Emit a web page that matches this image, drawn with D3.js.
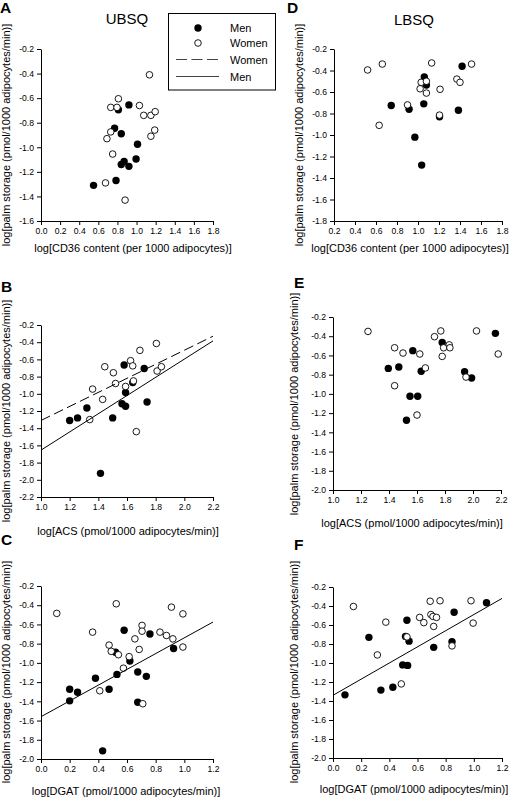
<!DOCTYPE html>
<html><head><meta charset="utf-8">
<script src="https://cdn.jsdelivr.net/npm/d3@7"></script>
<style>
body{margin:0;background:#fff}
svg{display:block}
text{font-family:"Liberation Sans",Arial,Helvetica,sans-serif;fill:#000}
</style>
</head><body>
<svg id="c" width="511" height="798"></svg>
<script>
// ---------- data ----------
const A_men = [[0.55,-1.31],[0.785,-1.27],[0.81,-0.695],[0.92,-0.655],[0.77,-0.845],[0.84,-0.89],[1.01,-0.975],[0.995,-1.095],[0.87,-1.115],[0.84,-1.14],[0.92,-1.155]];
const A_women = [[1.135,-0.41],[0.81,-0.605],[0.73,-0.675],[0.795,-0.675],[1.03,-0.66],[1.075,-0.74],[1.15,-0.74],[1.195,-0.71],[0.73,-0.875],[0.69,-0.93],[1.19,-0.86],[1.15,-0.91],[0.75,-1.055],[0.675,-1.29],[0.88,-1.43]];

const D_men = [[1.42,-0.36],[1.06,-0.46],[1.08,-0.535],[0.745,-0.725],[0.915,-0.76],[1.055,-0.71],[1.385,-0.77],[0.97,-1.02],[1.035,-1.28],[1.205,-0.83]];
const D_women = [[0.52,-0.395],[0.66,-0.34],[1.13,-0.33],[1.51,-0.34],[1.37,-0.48],[1.40,-0.51],[1.03,-0.51],[1.08,-0.50],[1.02,-0.57],[1.08,-0.61],[1.21,-0.575],[0.90,-0.72],[1.205,-0.815],[0.63,-0.91]];

const B_men = [[1.20,-1.31],[1.255,-1.28],[1.32,-1.165],[1.50,-1.28],[1.415,-1.925],[1.58,-0.665],[1.59,-0.985],[1.565,-1.115],[1.59,-1.145],[1.72,-0.705],[1.64,-0.87],[1.74,-1.095]];
const B_women = [[1.445,-0.685],[1.505,-0.755],[1.52,-0.88],[1.36,-0.945],[1.43,-1.065],[1.34,-1.30],[1.59,-0.915],[1.625,-0.615],[1.64,-0.675],[1.805,-0.415],[1.69,-0.495],[1.81,-0.735],[1.84,-0.685],[1.645,-0.85],[1.665,-1.44]];
const B_womenFit = [[1.0,-1.31],[2.2,-0.33]];
const B_menFit = [[1.0,-1.655],[2.2,-0.385]];

const E_men = [[2.16,-0.37],[1.78,-0.465],[1.57,-0.55],[1.395,-0.735],[1.47,-0.72],[1.63,-0.765],[1.94,-0.77],[1.99,-0.835],[1.55,-1.025],[1.605,-1.025],[1.525,-1.275]];
const E_women = [[1.25,-0.35],[1.77,-0.345],[1.725,-0.405],[2.025,-0.345],[2.18,-0.585],[1.44,-0.52],[1.50,-0.575],[1.62,-0.585],[1.79,-0.52],[1.83,-0.49],[1.835,-0.52],[1.78,-0.61],[1.66,-0.73],[1.44,-0.915],[1.95,-0.825],[1.60,-1.22]];

const C_men = [[0.20,-1.275],[0.255,-1.305],[0.20,-1.395],[0.38,-1.16],[0.43,-1.915],[0.475,-1.275],[0.53,-1.12],[0.58,-0.66],[0.52,-0.89],[0.62,-0.98],[0.76,-0.70],[0.675,-1.095],[0.735,-1.14],[0.675,-1.41],[0.925,-0.85]];
const C_women = [[0.11,-0.485],[0.525,-0.385],[0.36,-0.68],[0.475,-0.815],[0.49,-0.88],[0.54,-0.915],[0.41,-1.29],[0.575,-1.055],[0.615,-0.935],[0.91,-0.42],[0.99,-0.49],[0.705,-0.61],[0.705,-0.67],[0.655,-0.75],[0.83,-0.68],[0.875,-0.715],[0.92,-0.75],[0.99,-0.835],[0.685,-0.86],[0.71,-1.425]];
const C_fit = [[0.0,-1.56],[1.2,-0.575]];

const F_men = [[1.09,-0.365],[0.86,-0.465],[0.525,-0.55],[0.255,-0.73],[0.515,-0.72],[0.54,-0.77],[0.715,-0.835],[0.845,-0.775],[0.495,-1.02],[0.53,-1.025],[0.085,-1.335],[0.34,-1.285],[0.425,-1.255]];
const F_women = [[0.145,-0.405],[0.375,-0.57],[0.315,-0.915],[0.485,-1.22],[0.69,-0.35],[0.76,-0.345],[0.98,-0.345],[0.995,-0.58],[0.615,-0.52],[0.645,-0.575],[0.695,-0.49],[0.71,-0.51],[0.735,-0.52],[0.715,-0.615],[0.525,-0.725],[0.845,-0.82]];
const F_fit = [[0.0,-1.34],[1.2,-0.32]];

const xTicksA = [0.0,0.2,0.4,0.6,0.8,1.0,1.2,1.4,1.6,1.8];
const yTicksA = [-0.2,-0.4,-0.6,-0.8,-1.0,-1.2,-1.4,-1.6];
const xTicksD = [0.2,0.4,0.6,0.8,1.0,1.2,1.4,1.6,1.8];
const yTicksD = [-0.2,-0.4,-0.6,-0.8,-1.0,-1.2,-1.4,-1.6,-1.8];
const xTicksBE = [1.0,1.2,1.4,1.6,1.8,2.0,2.2];
const yTicksB = [-0.2,-0.4,-0.6,-0.8,-1.0,-1.2,-1.4,-1.6,-1.8,-2.0,-2.2];
const yTicksE = [-0.2,-0.4,-0.6,-0.8,-1.0,-1.2,-1.4,-1.6,-1.8,-2.0];
const xTicksCF = [0.0,0.2,0.4,0.6,0.8,1.0,1.2];
const yTicksCF = [-0.2,-0.4,-0.6,-0.8,-1.0,-1.2,-1.4,-1.6,-1.8,-2.0];

const yTitle = "log[palm storage (pmol/1000 adipocytes/min)]";
const xTitleCD36 = "log[CD36 content (per 1000 adipocytes)]";
const xTitleACS = "log[ACS (pmol/1000 adipocytes/min)]";
const xTitleDGAT = "log[DGAT (pmol/1000 adipocytes/min)]";
const legendLabels = ["Men","Women","Women","Men"];

// ---------- drawing ----------
const svg = d3.select("#c");
const fmt = d => d.toFixed(1);

const panels = [
  {letter:"A", L:[0,13], head:"UBSQ", headPos:[127,24], men:A_men, women:A_women, xt:xTicksA, yt:yTicksA,
   xr:[41,213], yr:[49,221], xTitle:xTitleCD36, xTitlePos:[133,252], yTitlePos:[10,135], fits:[]},
  {letter:"D", L:[287,13], head:"LBSQ", headPos:[414,25], men:D_men, women:D_women, xt:xTicksD, yt:yTicksD,
   xr:[334,502], yr:[49,221], xTitle:xTitleCD36, xTitlePos:[410,252], yTitlePos:[303,135], fits:[]},
  {letter:"B", L:[1,292], men:B_men, women:B_women, xt:xTicksBE, yt:yTicksB,
   xr:[41,213], yr:[325,497], xTitle:xTitleACS, xTitlePos:[128,535], yTitlePos:[10,411],
   fits:[{d:B_womenFit,dash:"10,4.5"},{d:B_menFit,dash:null}]},
  {letter:"E", L:[294,288], men:E_men, women:E_women, xt:xTicksBE, yt:yTicksE,
   xr:[333,501], yr:[317,490], xTitle:xTitleACS, xTitlePos:[412,527], yTitlePos:[298,404], fits:[]},
  {letter:"C", L:[1,545], men:C_men, women:C_women, xt:xTicksCF, yt:yTicksCF,
   xr:[41,213], yr:[586,759], xTitle:xTitleDGAT, xTitlePos:[126,795], yTitlePos:[10,672],
   fits:[{d:C_fit,dash:null}]},
  {letter:"F", L:[294,550], men:F_men, women:F_women, xt:xTicksCF, yt:yTicksCF,
   xr:[333,502], yr:[587,758], xTitle:xTitleDGAT, xTitlePos:[414,793], yTitlePos:[298,672],
   fits:[{d:F_fit,dash:null}]}
];

panels.forEach(p => {
  const g = svg.append("g");
  const x = d3.scaleLinear().domain([p.xt[0], p.xt[p.xt.length-1]]).range(p.xr);
  const y = d3.scaleLinear().domain([p.yt[0], p.yt[p.yt.length-1]]).range(p.yr);

  const ax = g.append("g").attr("transform", `translate(0,${p.yr[1]})`)
    .call(d3.axisBottom(x).tickValues(p.xt).tickFormat(fmt).tickSize(4).tickSizeOuter(0).tickPadding(3));
  const ay = g.append("g").attr("transform", `translate(${p.xr[0]},0)`)
    .call(d3.axisLeft(y).tickValues(p.yt).tickFormat(fmt).tickSize(4).tickSizeOuter(0).tickPadding(3));
  [ax, ay].forEach(a => {
    a.attr("font-family", null).attr("font-size", null);
    a.selectAll("path,line").attr("stroke", "#000").attr("stroke-width", 1);
    a.selectAll("text").style("font-size", "8.6px").attr("fill", "#111");
  });

  // points: men filled, women open (drawn on top, white fill)
  g.append("g").selectAll("circle").data(p.men).join("circle")
    .attr("cx", d => x(d[0])).attr("cy", d => y(d[1])).attr("r", 3.7).attr("fill", "#000");
  g.append("g").selectAll("circle").data(p.women).join("circle")
    .attr("cx", d => x(d[0])).attr("cy", d => y(d[1])).attr("r", 3.3)
    .attr("fill", "#fff").attr("stroke", "#000").attr("stroke-width", 0.9);

  const line = d3.line().x(d => x(d[0])).y(d => y(d[1]));
  p.fits.forEach(f => {
    g.append("path").attr("d", line(f.d)).attr("fill", "none")
      .attr("stroke", "#000").attr("stroke-width", 1)
      .attr("stroke-dasharray", f.dash);
  });

  g.append("text").attr("x", p.L[0]).attr("y", p.L[1]).text(p.letter)
    .style("font-size", "15.5px").style("font-weight", "bold");
  if (p.head) {
    g.append("text").attr("x", p.headPos[0]).attr("y", p.headPos[1]).attr("text-anchor", "middle")
      .text(p.head).style("font-size", "15px");
  }
  g.append("text").attr("x", p.xTitlePos[0]).attr("y", p.xTitlePos[1]).attr("text-anchor", "middle")
    .text(p.xTitle).style("font-size", "11px");
  g.append("text").attr("transform", `translate(${p.yTitlePos[0]},${p.yTitlePos[1]}) rotate(-90)`)
    .attr("text-anchor", "middle").text(p.yTitle || yTitle).style("font-size", "11px");
});

// ---------- legend ----------
const lg = svg.append("g");
lg.append("rect").attr("x", 168.5).attr("y", 13.5).attr("width", 107).attr("height", 76.5)
  .attr("fill", "#fff").attr("stroke", "#000").attr("stroke-width", 1);
const rows = [28, 43, 59.5, 76.5];
lg.append("circle").attr("cx", 198).attr("cy", rows[0]).attr("r", 3.7).attr("fill", "#000");
lg.append("circle").attr("cx", 198).attr("cy", rows[1]).attr("r", 3.3).attr("fill", "#fff")
  .attr("stroke", "#000").attr("stroke-width", 0.9);
lg.append("line").attr("x1", 176).attr("x2", 219).attr("y1", rows[2]).attr("y2", rows[2])
  .attr("stroke", "#444").attr("stroke-width", 1).attr("stroke-dasharray", "11,4.5");
lg.append("line").attr("x1", 176).attr("x2", 219).attr("y1", rows[3]).attr("y2", rows[3])
  .attr("stroke", "#444").attr("stroke-width", 1);
legendLabels.forEach((t, i) => {
  lg.append("text").attr("x", 230).attr("y", rows[i] + 4).text(t).style("font-size", "11px");
});
</script>
</body></html>
